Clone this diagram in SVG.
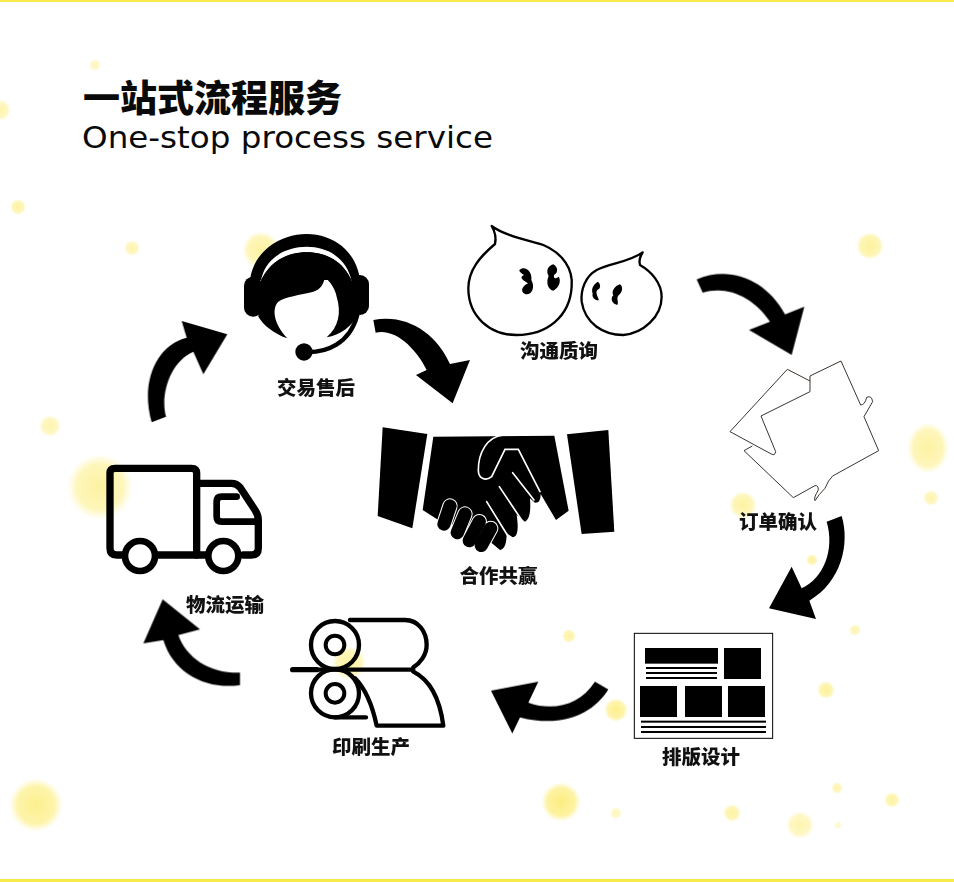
<svg xmlns="http://www.w3.org/2000/svg" width="954" height="882" viewBox="0 0 954 882">
<style>
.lbl{font-family:"Noto Sans CJK SC","Liberation Sans",sans-serif;font-weight:900;font-size:19.5px;text-anchor:middle;fill:#111}
.blob{fill:url(#glow)}
.k{fill:#000}
.w{fill:#fff}
.s{fill:none;stroke:#000;stroke-linecap:round;stroke-linejoin:round}
.paper{fill:none;stroke:#3a332e;stroke-width:3;stroke-linejoin:round}
.arrow{fill:#000}
</style>
<defs>
<radialGradient id="glow"><stop offset="0" stop-color="#fcec78"/><stop offset="0.7" stop-color="#fdf08c" stop-opacity="0.85"/><stop offset="1" stop-color="#fff4a8" stop-opacity="0"/></radialGradient>
<filter id="soft" x="-5%" y="-5%" width="110%" height="110%"><feGaussianBlur stdDeviation="0.5"/></filter>
</defs>
<rect width="954" height="882" fill="#fff"/>
<g id="background">
<rect x="0" y="0" width="954" height="2" fill="#f7ea4a"/>
<rect x="0" y="879" width="954" height="3" fill="#f7ea4a"/>
<circle class="blob" cx="0" cy="110" r="11" opacity=".6"/><circle class="blob" cx="95" cy="65" r="6" opacity=".5"/>
<circle class="blob" cx="18" cy="207" r="8" opacity=".7"/><circle class="blob" cx="132" cy="248" r="8" opacity=".6"/>
<circle class="blob" cx="261" cy="250" r="19" opacity=".7"/><circle class="blob" cx="50" cy="426" r="11" opacity=".6"/>
<circle class="blob" cx="100" cy="487" r="33" opacity=".7"/><circle class="blob" cx="870" cy="246" r="14" opacity=".75"/>
<ellipse class="blob" cx="928" cy="448" rx="21" ry="26" opacity=".7"/><circle class="blob" cx="931" cy="498" r="8" opacity=".6"/>
<circle class="blob" cx="349" cy="663" r="17" opacity=".7"/><circle class="blob" cx="569" cy="636" r="7" opacity=".7"/>
<circle class="blob" cx="616" cy="710" r="12" opacity=".85"/><circle class="blob" cx="826" cy="690" r="9" opacity=".75"/>
<circle class="blob" cx="855" cy="630" r="6" opacity=".6"/><circle class="blob" cx="837" cy="788" r="6" opacity=".6"/>
<circle class="blob" cx="892" cy="800" r="8" opacity=".7"/><circle class="blob" cx="800" cy="825" r="14" opacity=".6"/>
<circle class="blob" cx="732" cy="813" r="9" opacity=".7"/><circle class="blob" cx="616" cy="813" r="6" opacity=".5"/>
<circle class="blob" cx="561" cy="802" r="20" opacity=".95"/><circle class="blob" cx="36" cy="805" r="27" opacity=".85"/>
<circle class="blob" cx="743" cy="505" r="14" opacity=".7"/><circle class="blob" cx="812" cy="560" r="6" opacity=".7"/>
<circle class="blob" cx="838" cy="825" r="4" opacity=".4"/>
</g>
<g id="title">
<text x="83" y="112" font-family="'Noto Sans CJK SC',sans-serif" font-weight="900" font-size="37" fill="#0a0a0a">一站式流程服务</text>
<text x="82" y="148" font-family="'DejaVu Sans','Liberation Sans',sans-serif" font-size="31" fill="#0a0a0a" textLength="411" lengthAdjust="spacingAndGlyphs">One-stop process service</text>
</g>
<g id="connectors" filter="url(#soft)">
<path class="arrow" transform="translate(230 220) scale(.3333)" d="M430 300L437 338C500 325 560 390 590 450L558 465L668 550L720 420L660 432C620 340 530 280 430 300Z"/>
<path class="arrow" transform="translate(690 260) scale(.3333)" d="M20 58L38 98C110 75 190 110 240 185L177 210L305 285L343 140L285 163C230 60 120 15 20 58Z"/>
<path class="arrow" transform="translate(760 510) scale(.3333)" d="M200 35L245 18C270 100 245 215 148 272L168 327L27 295L95 170L125 235C190 205 225 120 200 35Z"/>
<path class="arrow" transform="translate(480 670) scale(.3333)" d="M345 35L385 58C340 130 250 175 120 142L97 190L33 62L175 35L145 98C220 125 300 105 345 35Z"/>
<path class="arrow" transform="translate(130 590) scale(.3333)" d="M330 248L330 285C230 300 130 250 100 150L40 160L98 28L210 118L145 135C170 205 240 250 330 248Z"/>
<path class="arrow" transform="translate(140 315) scale(.3333)" d="M35 322L78 305C60 240 90 140 160 110L190 178L262 58L125 18L140 68C50 90 0 200 35 322Z"/>
</g>
<g id="node-service">
<g transform="translate(230 220) scale(.3333)" filter="url(#soft)">
<path class="k" d="M60 180C70 95 150 42 230 42C310 42 380 95 390 180Z"/>
<path class="w" d="M93 182C105 115 165 80 230 80C295 80 350 115 365 182C340 125 290 97 230 97C170 97 120 125 93 182Z"/>
<path class="k" d="M93 182C120 125 170 97 230 97C290 97 340 125 365 182L382 285C368 318 330 345 290 352C325 320 335 280 320 230C315 205 300 185 285 172C280 195 270 210 250 215C210 225 165 230 145 245C125 265 130 310 172 355C130 340 100 315 85 290Z"/>
<rect class="k" x="42" y="170" width="55" height="120" rx="27"/>
<rect class="k" x="362" y="165" width="55" height="120" rx="27"/>
<path class="s" stroke-width="13" d="M222 396C290 400 360 370 382 285"/>
<circle class="k" cx="222" cy="396" r="26"/>
</g>
<text class="lbl" x="316" y="395">交易售后</text>
</g>
<g id="node-consult">
<g transform="translate(460 220) scale(.3333)" filter="url(#soft)">
<path class="s" stroke-width="7" d="M95 18C130 45 200 60 250 75C310 100 340 150 335 200C330 290 260 345 170 345C90 345 25 290 25 205C25 150 60 110 105 72C110 50 105 35 95 18Z"/>
<path class="s" stroke-width="7" d="M548 97C510 125 450 130 410 150C375 170 362 210 365 245C375 310 430 345 490 345C550 340 605 290 605 230C605 190 575 155 540 135C535 120 540 110 548 97Z"/>
<path class="k" d="M178 150C195 135 218 155 214 180C228 205 212 228 195 222C180 215 186 198 204 190C192 182 174 172 192 165C184 160 178 156 178 150Z"/>
<path class="k" d="M280 133C262 138 258 155 266 168C258 185 262 208 280 212C298 202 304 182 296 170C288 176 280 178 282 165C294 160 296 142 280 133Z"/>
<path class="k" d="M414 185C400 192 393 208 398 220C395 232 404 242 417 241C414 230 405 218 412 210C424 205 422 192 414 185Z"/>
<path class="k" d="M480 193C464 198 453 214 460 226C450 236 456 252 472 255C478 246 467 236 476 226C488 216 490 200 480 193Z"/>
</g>
<text class="lbl" x="559" y="358">沟通质询</text>
</g>
<g id="node-order">
<path class="paper" transform="translate(690 260) scale(.3333)" d="M360 348L453 303L512 435Q525 435 530 412Q545 405 548 425L522 470L566 572L428 648Q415 660 405 685Q385 705 375 722Q370 715 385 690Q385 675 375 677L310 713L162 572L187 558M360 348L360 395L213 468L257 575Q255 590 240 580L120 515L292 328L360 363"/>
<text class="lbl" x="778" y="529">订单确认</text>
</g>
<g id="node-layout">
<g transform="translate(620 620) scale(.3333)">
<rect x="43" y="40" width="415" height="315" fill="#fff" stroke="#000" stroke-width="3"/>
<rect class="k" x="75" y="84" width="219" height="47"/><rect class="k" x="312" y="84" width="111" height="93"/>
<rect class="k" x="60" y="198" width="111" height="93"/><rect class="k" x="195" y="198" width="111" height="93"/><rect class="k" x="324" y="198" width="111" height="93"/>
<rect class="k" x="78" y="141" width="213" height="6"/><rect class="k" x="78" y="156" width="213" height="6"/><rect class="k" x="78" y="171" width="213" height="6"/>
<rect class="k" x="63" y="302" width="375" height="6"/><rect class="k" x="63" y="318" width="375" height="6"/><rect class="k" x="63" y="333" width="375" height="6"/>
</g>
<text class="lbl" x="701" y="764">排版设计</text>
</g>
<g id="node-print">
<g transform="translate(280 610) scale(.3333)" filter="url(#soft)">
<path class="s" stroke-width="13" d="M210 30L375 30C415 30 440 65 440 105C440 135 420 160 400 172M45 179L400 179M400 185C450 210 480 270 490 347L290 347C280 300 260 240 225 205M165 322L258 322"/>
<path class="s" stroke-width="16" d="M38 179L110 179"/>
<circle class="s" cx="165" cy="105" r="72" stroke-width="13"/><circle class="s" cx="165" cy="105" r="28" stroke-width="12"/>
<circle class="s" cx="165" cy="250" r="72" stroke-width="13"/><circle class="s" cx="165" cy="250" r="28" stroke-width="12"/>
</g>
<text class="lbl" x="371" y="754">印刷生产</text>
</g>
<g id="node-logistics">
<g transform="translate(90 450) scale(.3333)" filter="url(#soft)">
<path class="s" stroke-width="22" d="M105 315L80 315Q60 315 60 295L60 70Q60 55 75 55L305 55Q320 55 320 70L320 315L195 315"/>
<path class="s" stroke-width="22" d="M320 100L425 100Q440 100 450 112L495 180Q505 195 505 210L505 295Q505 315 485 315L460 315M320 315L350 315"/>
<path class="s" stroke-width="20" d="M440 140L395 140Q380 140 380 155L380 200Q380 215 395 215L500 215"/>
<circle cx="150" cy="318" r="45" fill="#fff" stroke="#000" stroke-width="20"/>
<circle cx="400" cy="318" r="45" fill="#fff" stroke="#000" stroke-width="20"/>
</g>
<text class="lbl" x="225" y="612">物流运输</text>
</g>
<g id="node-partnership">
<g transform="translate(370 420) scale(.3333)" filter="url(#soft)">
<path class="k" d="M38 22L172 42L127 325L23 288Z"/>
<path class="k" d="M591 43L715 30L733 335L635 342Z"/>
<path class="k" d="M190 50L553 47L596 272L558 300L512 222Q512 250 495 248L480 235Q485 295 465 305L440 285Q450 350 428 352L410 340Q410 388 390 390L330 340L205 300L158 270Z"/>
<g fill="none" stroke-linecap="round">
<path stroke="#fff" stroke-width="5" d="M400 45C350 50 325 100 325 150C325 175 345 185 365 170L405 88L445 88L510 215M428 158L492 240M388 200L455 300M350 245L412 345"/>
<g stroke="#fff" stroke-width="46"><path d="M240 258L222 312"/><path d="M285 282L262 338"/><path d="M328 305L298 362"/><path d="M362 325L334 376"/></g>
<g stroke="#000" stroke-width="40"><path d="M240 258L222 312"/><path d="M285 282L262 338"/><path d="M328 305L298 362"/><path d="M362 325L334 376"/></g>
</g>
</g>
<text class="lbl" x="498.500" y="583">合作共赢</text>
</g>
</svg>
